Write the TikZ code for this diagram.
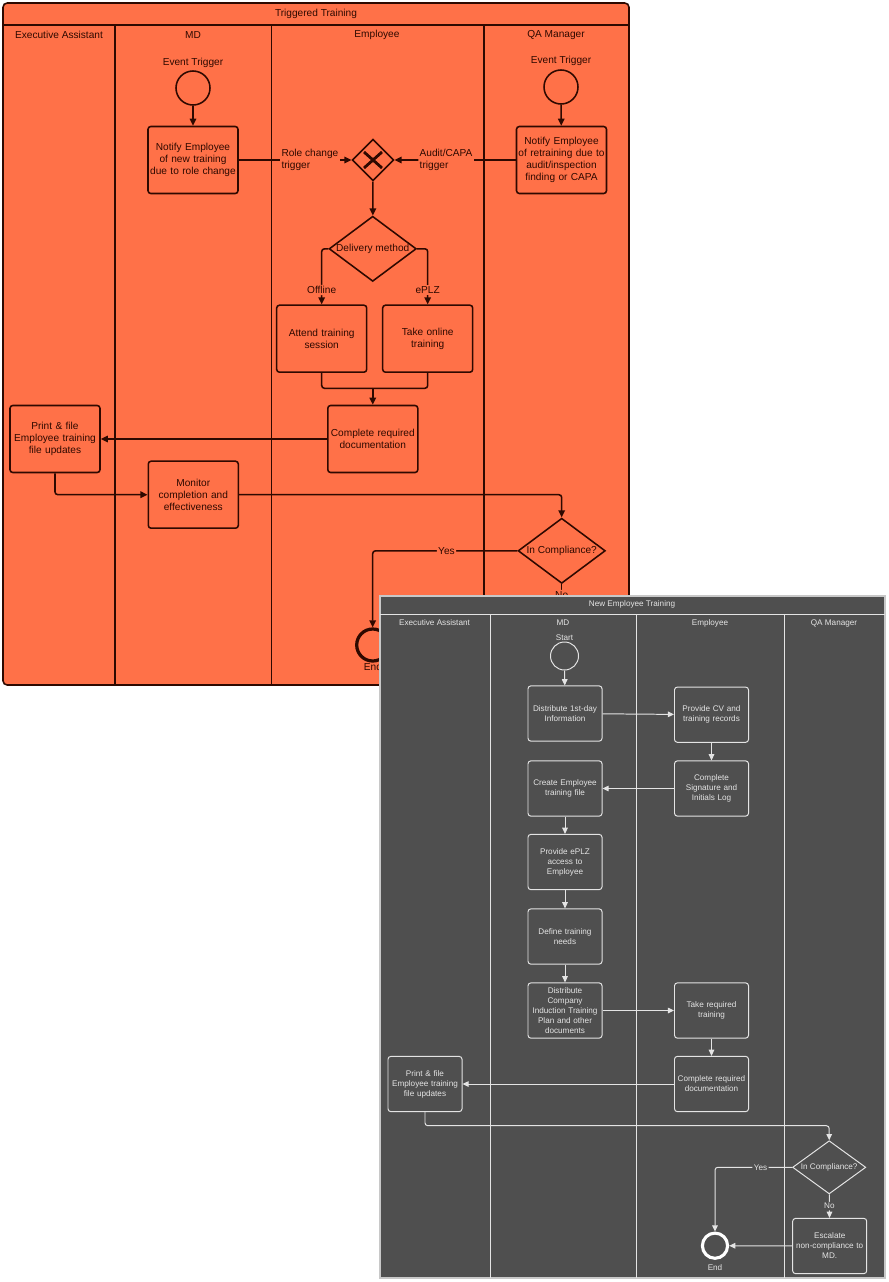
\documentclass[tikz,border=0pt]{standalone}
\usepackage{fontspec}
\setmainfont{Liberation Sans}
\usepackage{tikz}
\usetikzlibrary{shapes.geometric, arrows.meta}
\definecolor{trgfill}{HTML}{FF7148}
\definecolor{trgline}{HTML}{2E0900}
\definecolor{newfill}{HTML}{4F4F4F}
\definecolor{newline}{HTML}{E4E4E4}
\definecolor{newframe}{HTML}{C8C8C8}
\tikzset{
  % Triggered Training (orange pool)
  tpool/.style={draw=trgline, fill=trgfill, line width=1.1pt, rounded corners=3pt},
  tsep/.style={draw=trgline, line width=0.9pt},
  tlane/.style={text=trgline, font=\fontsize{7.2}{8.5}\selectfont, inner sep=1pt},
  ttask/.style={rectangle, draw=trgline, fill=trgfill, line width=1.1pt,
                rounded corners=2pt, minimum width=2.25cm, minimum height=1.675cm,
                text width=2.2cm, inner sep=0.5pt, align=center, text=trgline,
                font=\fontsize{7.2}{8.5}\selectfont},
  tevent/.style={circle, draw=trgline, line width=1.1pt, minimum size=0.85cm, inner sep=0pt},
  tendev/.style={circle, draw=trgline, line width=2.3pt, minimum size=0.8cm, inner sep=0pt},
  tdec/.style={diamond, draw=trgline, fill=trgfill, line width=1.1pt, aspect=1.45,
               inner sep=0pt, minimum width=2.18cm, minimum height=1.63cm,
               text=trgline, font=\fontsize{7.2}{8.5}\selectfont},
  tgateway/.style={diamond, draw=trgline, fill=trgfill, line width=1.1pt,
                   minimum size=1.04cm, inner sep=0pt},
  tflow/.style={draw=trgline, line width=1.1pt, rounded corners=2pt},
  tarrow/.style={tflow, -{Triangle[length=5pt, width=4.6pt]}},
  tlbl/.style={fill=trgfill, inner sep=1pt, text=trgline, font=\fontsize{7.2}{8.5}\selectfont},
  % New Employee Training (dark pool)
  npool/.style={draw=newframe, fill=newfill, line width=0.8pt},
  nsep/.style={draw=newline, line width=0.7pt},
  nlane/.style={text=newline, font=\fontsize{5.8}{7.1}\selectfont, inner sep=1pt},
  ntask/.style={rectangle, draw=newline, fill=newfill, line width=0.7pt,
                rounded corners=2pt, minimum width=1.85cm, minimum height=1.38cm,
                text width=1.78cm, inner sep=0.5pt, align=center, text=newline,
                font=\fontsize{5.8}{7.1}\selectfont},
  nevent/.style={circle, draw=newline, line width=0.7pt, minimum size=0.7cm, inner sep=0pt},
  nendev/.style={circle, draw=white, line width=2.2pt, minimum size=0.63cm, inner sep=0pt},
  ndec/.style={diamond, draw=newline, fill=newfill, line width=0.7pt, aspect=1.45,
               inner sep=0pt, minimum width=1.83cm, minimum height=1.33cm,
               text=newline, font=\fontsize{5.8}{7.1}\selectfont},
  nflow/.style={draw=newline, line width=0.7pt, rounded corners=2pt},
  narrow/.style={nflow, -{Triangle[length=4.4pt, width=4pt]}},
  nlbl/.style={fill=newfill, inner sep=1pt, text=newline, font=\fontsize{5.8}{7.1}\selectfont},
}

\begin{document}
\begin{tikzpicture}[x=0.025cm, y=-0.025cm]
\fill[white] (0,0) rectangle (888,1282);
\useasboundingbox (0,0) rectangle (888,1282);

% ── Triggered Training: pool and lanes ───────────────────────────────────────
\draw[tpool] (3,3) rectangle (629,685);
\draw[tsep] (3,25) -- (629,25);
\foreach \x in {115,271.5,484}
  \draw[tsep] (\x,25) -- (\x,685);
\node[tlane] (ttitle)   at (316,14) {Triggered Training};
\node[tlane] (tlaneea)  at (59,35)  {Executive Assistant};
\node[tlane] (tlanemd)  at (193,35) {MD};
\node[tlane] (tlaneemp) at (377,35) {Employee};
\node[tlane] (tlaneqa)  at (556,35) {QA Manager};

% ── Triggers ─────────────────────────────────────────────────────────────────
\node[tlane]  (tevmdlbl) at (193,63)  {Event Trigger};
\node[tevent] (tevmd)    at (193,88)  {};
\node[ttask]  (tnotmd)   at (193,160) {Notify Employee\\of new training\\due to role change};
\node[tlane]  (tevqalbl) at (561,61)  {Event Trigger};
\node[tevent] (tevqa)    at (561,87)  {};
\node[ttask]  (tnotqa)   at (561.5,160) {Notify Employee\\of retraining due to\\audit/inspection\\finding or CAPA};

% ── Employee lane ────────────────────────────────────────────────────────────
\node[tgateway] (tgate)   at (373,160)   {};
\draw[trgline, line width=2pt] (tgate.center) +(-9,-8) -- +(9,8)
                               (tgate.center) +(-9,8) -- +(9,-8);
\node[tdec]     (tdeliv)  at (372.7,248.8) {Delivery method};
\node[ttask]    (tattend) at (321.7,338.7) {Attend training\\session};
\node[ttask]    (tonline) at (427.7,338.7) {Take online\\training};
\node[ttask]    (tdoc)    at (372.8,439)   {Complete required\\documentation};

% ── Follow-up ────────────────────────────────────────────────────────────────
\node[ttask]  (tprint)  at (55,439)      {Print \& file\\Employee training\\file updates};
\node[ttask]  (tmon)    at (193.3,494.7) {Monitor\\completion and\\effectiveness};
\node[tdec]   (tcomp)   at (561.7,550.8) {In Compliance?};
\node[tendev] (tend)    at (372.7,645)   {};
\node[tlane]  (tendlbl) at (373,667)     {End};

% ── Flows ────────────────────────────────────────────────────────────────────
\draw[tarrow] (tevmd) -- (tnotmd);
\draw[tarrow] (tevqa) -- (tnotqa);
\draw[tarrow] (tnotmd) -- node[tlbl, pos=0.632, align=left]{Role change\\trigger} (tgate);
\draw[tarrow] (tnotqa) -- node[tlbl, pos=0.575, align=left]{Audit/CAPA\\trigger} (tgate);
\draw[tarrow] (tgate) -- (tdeliv);
\draw[tarrow] (tdeliv.west) -| node[tlbl, pos=0.87]{Offline} (tattend.north);
\draw[tarrow] (tdeliv.east) -| node[tlbl, pos=0.87]{ePLZ} (tonline.north);
\coordinate (tmerge) at (372.8,388.3);
\draw[tflow] (tattend.south) |- (tmerge);
\draw[tflow] (tonline.south) |- (tmerge);
\draw[tarrow] (tmerge) -- (tdoc.north);
\draw[tarrow] (tdoc) -- (tprint);
\draw[tarrow] (tprint.south) |- (tmon.west);
\draw[tarrow] (tmon.east) -| (tcomp.north);
\draw[tarrow] (tcomp.west) -| node[tlbl, pos=0.245]{Yes} (tend.north);
\coordinate (tnoend) at (561.7,640);
\draw[tflow] (tcomp.south) -- node[tlbl, pos=0.19]{No} (tnoend);

% ── New Employee Training: pool and lanes ────────────────────────────────────
\draw[npool] (380,596) rectangle (885,1278);
\draw[nsep] (380,614) -- (885,614);
\foreach \x in {490,636,784}
  \draw[nsep] (\x,614) -- (\x,1278);
\node[nlane] (ntitle)   at (632,604.5) {New Employee Training};
\node[nlane] (nlaneea)  at (434.5,623) {Executive Assistant};
\node[nlane] (nlanemd)  at (563,623)   {MD};
\node[nlane] (nlaneemp) at (710,623)   {Employee};
\node[nlane] (nlaneqa)  at (834,623)   {QA Manager};

% ── MD lane ──────────────────────────────────────────────────────────────────
\node[nlane]  (nstartlbl) at (564.5,638) {Start};
\node[nevent] (nstart)    at (564.5,656) {};
\node[ntask]  (ndist1)    at (565,713.5)  {Distribute 1st-day\\Information};
\node[ntask]  (ncreate)   at (565,788.5)  {Create Employee\\training file};
\node[ntask]  (neplz)     at (565,862)    {Provide ePLZ\\access to\\Employee};
\node[ntask]  (ndefine)   at (565,936.5)  {Define training\\needs};
\node[ntask]  (ndist2)    at (565,1010.5) {Distribute\\Company\\Induction Training\\Plan and other\\documents};

% ── Employee lane ────────────────────────────────────────────────────────────
\node[ntask] (ncv)   at (711.5,714.7)  {Provide CV and\\training records};
\node[ntask] (nsig)  at (711.5,788.5)  {Complete\\Signature and\\Initials Log};
\node[ntask] (ntake) at (711.5,1010.5) {Take required\\training};
\node[ntask] (ndoc)  at (711.5,1084)   {Complete required\\documentation};

% ── Executive Assistant and QA Manager lanes ─────────────────────────────────
\node[ntask]  (nprint)  at (425,1084)     {Print \& file\\Employee training\\file updates};
\node[ndec]   (ncomp)   at (829.2,1167.3) {In Compliance?};
\node[ntask]  (nesc)    at (829.7,1246)   {Escalate\\non-compliance to\\MD.};
\node[nendev] (nend)    at (715,1245.7)   {};
\node[nlane]  (nendlbl) at (715,1267.7)   {End};

% ── Flows ────────────────────────────────────────────────────────────────────
\draw[narrow] (nstart) -- (ndist1);
\draw[narrow] (ndist1) -- (ncv);
\draw[narrow] (ncv) -- (nsig);
\draw[narrow] (nsig) -- (ncreate);
\draw[narrow] (ncreate) -- (neplz);
\draw[narrow] (neplz) -- (ndefine);
\draw[narrow] (ndefine) -- (ndist2);
\draw[narrow] (ndist2) -- (ntake);
\draw[narrow] (ntake) -- (ndoc);
\draw[narrow] (ndoc) -- (nprint);
\coordinate (nturn) at (425,1125.7);
\draw[narrow] (nprint.south) -- (nturn) -| (ncomp.north);
\draw[narrow] (ncomp.west) -| node[nlbl, pos=0.205]{Yes} (nend.north);
\draw[narrow] (ncomp) -- node[nlbl]{No} (nesc);
\draw[narrow] (nesc) -- (nend);

\end{tikzpicture}
\end{document}
